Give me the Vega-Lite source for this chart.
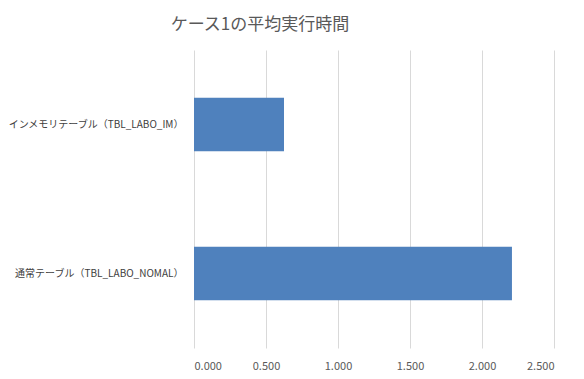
{
  "$schema": "https://vega.github.io/schema/vega-lite/v6.json",
  "width": 360,
  "height": 298,
  "autosize": {"type": "none"},
  "padding": {"left": 194, "top": 50, "right": 30, "bottom": 31},
  "background": "white",
  "title": {
    "text": "ケース1の平均実行時間",
    "font": "Noto Sans CJK JP",
    "fontSize": 17,
    "fontWeight": "normal",
    "color": "#595959",
    "anchor": "middle",
    "dx": -114,
    "offset": 16
  },
  "data": {
    "values": [
      {"table": "インメモリテーブル（TBL_LABO_IM）", "time": 0.625},
      {"table": "通常テーブル（TBL_LABO_NOMAL）", "time": 2.208}
    ]
  },
  "mark": {"type": "bar", "color": "#4F81BD"},
  "encoding": {
    "y": {
      "field": "table",
      "type": "nominal",
      "sort": null,
      "title": null,
      "scale": {"paddingInner": 0.64, "paddingOuter": 0.32},
      "axis": {
        "domain": false,
        "ticks": false,
        "labelPadding": 11,
        "labelFont": "Noto Sans CJK JP",
        "labelFontSize": 10,
        "labelColor": "#404040",
        "labelLimit": 300
      }
    },
    "x": {
      "field": "time",
      "type": "quantitative",
      "title": null,
      "scale": {"domain": [0, 2.5], "nice": false},
      "axis": {
        "values": [0, 0.5, 1, 1.5, 2, 2.5],
        "format": ".3f",
        "domain": false,
        "ticks": false,
        "grid": true,
        "gridColor": "#d9d9d9",
        "labelPadding": 12,
        "labelFont": "Noto Sans CJK JP",
        "labelFontSize": 11,
        "labelColor": "#595959"
      }
    }
  },
  "config": {"view": {"stroke": null}}
}
